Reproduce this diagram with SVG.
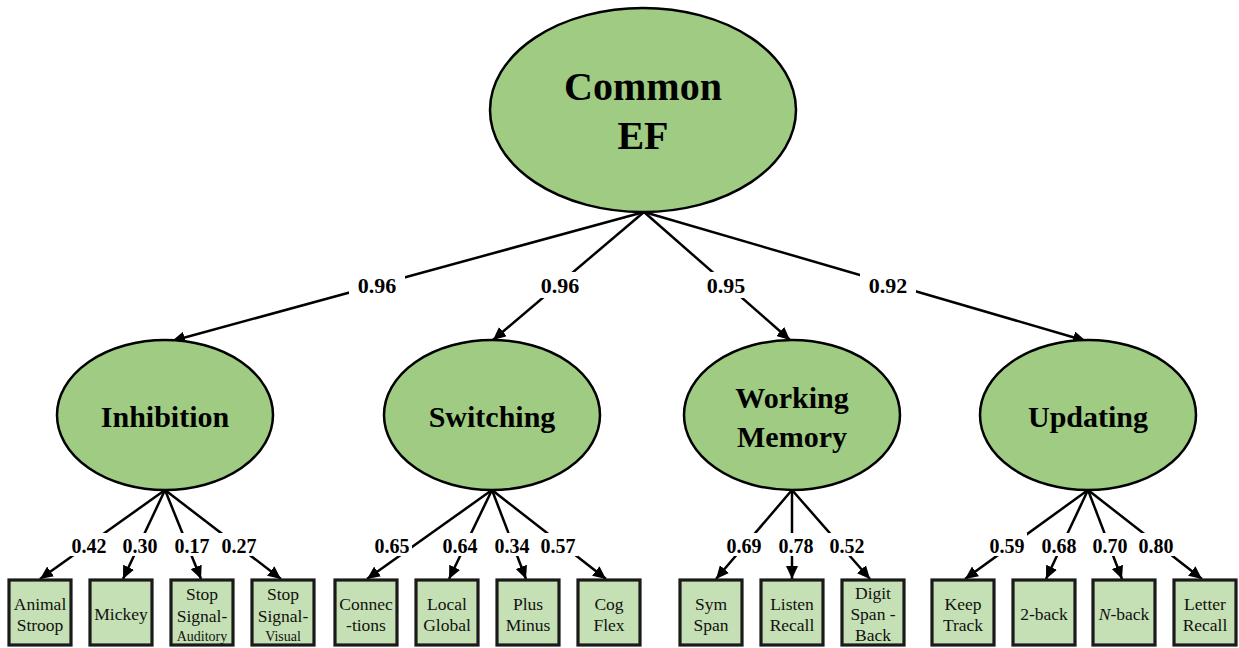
<svg xmlns="http://www.w3.org/2000/svg" width="1239" height="648" viewBox="0 0 1239 648">
<defs>
<style>
.lat{fill:#9fcb82;stroke:#000;stroke-width:2.5}
.box{fill:#c5e0b4;stroke:#1a1a1a;stroke-width:3.2}
.lt{font-family:"Liberation Serif","Times New Roman",serif;font-weight:bold;fill:#000;text-anchor:middle}
.bt{font-family:"Liberation Serif","Times New Roman",serif;font-size:17.5px;fill:#111;text-anchor:middle}
.sm{font-size:14px}
.edge{stroke:#000;stroke-width:2.5;fill:none;marker-end:url(#ah)}
.lbg{fill:#fff}
.l1{font-family:"Liberation Serif","Times New Roman",serif;font-weight:bold;font-size:22px;text-anchor:middle}
.l2{font-family:"Liberation Serif","Times New Roman",serif;font-weight:bold;font-size:20px;text-anchor:middle}
</style>
<marker id="ah" markerUnits="userSpaceOnUse" markerWidth="14" markerHeight="12" refX="13" refY="6" orient="auto">
<path d="M0,0 L13,6 L0,12 z" fill="#000"/>
</marker>
</defs>
<rect width="1239" height="648" fill="#fff"/>

<g id="connectors">
<line class="edge" x1="644" y1="212" x2="172" y2="341"/>
<line class="edge" x1="644" y1="212" x2="493" y2="340"/>
<line class="edge" x1="644" y1="212" x2="790" y2="340"/>
<line class="edge" x1="644" y1="212" x2="1086" y2="341"/>

<line class="edge" x1="165" y1="490" x2="40" y2="579"/>
<line class="edge" x1="165" y1="490" x2="123" y2="579"/>
<line class="edge" x1="165" y1="490" x2="201" y2="579"/>
<line class="edge" x1="165" y1="490" x2="281" y2="579"/>

<line class="edge" x1="492" y1="490" x2="367" y2="579"/>
<line class="edge" x1="492" y1="490" x2="449" y2="579"/>
<line class="edge" x1="492" y1="490" x2="526" y2="579"/>
<line class="edge" x1="492" y1="490" x2="606" y2="579"/>

<line class="edge" x1="792" y1="490" x2="716" y2="579"/>
<line class="edge" x1="792" y1="490" x2="792" y2="579"/>
<line class="edge" x1="792" y1="490" x2="870" y2="579"/>

<line class="edge" x1="1088" y1="490" x2="965" y2="579"/>
<line class="edge" x1="1088" y1="490" x2="1046" y2="579"/>
<line class="edge" x1="1088" y1="490" x2="1122" y2="579"/>
<line class="edge" x1="1088" y1="490" x2="1202" y2="579"/>

<g id="labels-top">
<rect class="lbg" x="349" y="272" width="56" height="26"/><text class="l1" x="377" y="293">0.96</text>
<rect class="lbg" x="532" y="272" width="56" height="26"/><text class="l1" x="560" y="293">0.96</text>
<rect class="lbg" x="698" y="272" width="56" height="26"/><text class="l1" x="726" y="293">0.95</text>
<rect class="lbg" x="860" y="272" width="56" height="26"/><text class="l1" x="888" y="293">0.92</text>
</g>
<g id="labels-bottom">
<rect class="lbg" x="69" y="533" width="40" height="23"/><text class="l2" x="89" y="553">0.42</text>
<rect class="lbg" x="120" y="533" width="40" height="23"/><text class="l2" x="140" y="553">0.30</text>
<rect class="lbg" x="172" y="533" width="40" height="23"/><text class="l2" x="192" y="553">0.17</text>
<rect class="lbg" x="219" y="533" width="40" height="23"/><text class="l2" x="239" y="553">0.27</text>

<rect class="lbg" x="372" y="533" width="40" height="23"/><text class="l2" x="392" y="553">0.65</text>
<rect class="lbg" x="440" y="533" width="40" height="23"/><text class="l2" x="460" y="553">0.64</text>
<rect class="lbg" x="492" y="533" width="40" height="23"/><text class="l2" x="512" y="553">0.34</text>
<rect class="lbg" x="538" y="533" width="40" height="23"/><text class="l2" x="558" y="553">0.57</text>

<rect class="lbg" x="724" y="533" width="40" height="23"/><text class="l2" x="744" y="553">0.69</text>
<rect class="lbg" x="776" y="533" width="40" height="23"/><text class="l2" x="796" y="553">0.78</text>
<rect class="lbg" x="827" y="533" width="40" height="23"/><text class="l2" x="847" y="553">0.52</text>

<rect class="lbg" x="987" y="533" width="40" height="23"/><text class="l2" x="1007" y="553">0.59</text>
<rect class="lbg" x="1039" y="533" width="40" height="23"/><text class="l2" x="1059" y="553">0.68</text>
<rect class="lbg" x="1090" y="533" width="40" height="23"/><text class="l2" x="1110" y="553">0.70</text>
<rect class="lbg" x="1136" y="533" width="40" height="23"/><text class="l2" x="1156" y="553">0.80</text>
</g>
</g>

<g id="common-ef">
<ellipse class="lat" cx="643" cy="110" rx="153" ry="102"/>
<text class="lt" x="643" y="100" font-size="40">Common</text>
<text class="lt" x="643" y="149" font-size="40">EF</text>
</g>
<g id="inhibition">
<ellipse class="lat" cx="165" cy="415" rx="108" ry="75"/>
<text class="lt" x="165" y="427" font-size="30">Inhibition</text>
</g>
<g id="switching">
<ellipse class="lat" cx="492" cy="415" rx="108" ry="75"/>
<text class="lt" x="492" y="427" font-size="30">Switching</text>
</g>
<g id="working-memory">
<ellipse class="lat" cx="792" cy="415" rx="108" ry="75"/>
<text class="lt" x="792" y="408" font-size="30">Working</text>
<text class="lt" x="792" y="447" font-size="30">Memory</text>
</g>
<g id="updating">
<ellipse class="lat" cx="1088" cy="415" rx="108" ry="75"/>
<text class="lt" x="1088" y="427" font-size="30">Updating</text>
</g>

<g id="animal-stroop"><rect class="box" x="9" y="580" width="62" height="65"/><text class="bt" x="40" y="610">Animal</text><text class="bt" x="40" y="631">Stroop</text></g>
<g id="mickey"><rect class="box" x="90" y="580" width="62" height="65"/><text class="bt" x="121" y="620">Mickey</text></g>
<g id="stop-auditory"><rect class="box" x="171" y="580" width="62" height="65"/><text class="bt" x="202" y="600">Stop</text><text class="bt" x="202" y="622">Signal-</text><text class="bt sm" x="202" y="641">Auditory</text></g>
<g id="stop-visual"><rect class="box" x="252" y="580" width="62" height="65"/><text class="bt" x="283" y="600">Stop</text><text class="bt" x="283" y="622">Signal-</text><text class="bt sm" x="283" y="641">Visual</text></g>

<g id="connections"><rect class="box" x="335" y="580" width="62" height="65"/><text class="bt" x="366" y="610">Connec</text><text class="bt" x="366" y="631">-tions</text></g>
<g id="local-global"><rect class="box" x="416" y="580" width="62" height="65"/><text class="bt" x="447" y="610">Local</text><text class="bt" x="447" y="631">Global</text></g>
<g id="plus-minus"><rect class="box" x="497" y="580" width="62" height="65"/><text class="bt" x="528" y="610">Plus</text><text class="bt" x="528" y="631">Minus</text></g>
<g id="cog-flex"><rect class="box" x="578" y="580" width="62" height="65"/><text class="bt" x="609" y="610">Cog</text><text class="bt" x="609" y="631">Flex</text></g>

<g id="sym-span"><rect class="box" x="680" y="580" width="62" height="65"/><text class="bt" x="711" y="610">Sym</text><text class="bt" x="711" y="631">Span</text></g>
<g id="listen-recall"><rect class="box" x="761" y="580" width="62" height="65"/><text class="bt" x="792" y="610">Listen</text><text class="bt" x="792" y="631">Recall</text></g>
<g id="digit-span"><rect class="box" x="842" y="580" width="62" height="65"/><text class="bt" x="873" y="599">Digit</text><text class="bt" x="873" y="620">Span -</text><text class="bt" x="873" y="641">Back</text></g>

<g id="keep-track"><rect class="box" x="932" y="580" width="62" height="65"/><text class="bt" x="963" y="610">Keep</text><text class="bt" x="963" y="631">Track</text></g>
<g id="two-back"><rect class="box" x="1013" y="580" width="62" height="65"/><text class="bt" x="1044" y="620">2-back</text></g>
<g id="n-back"><rect class="box" x="1093" y="580" width="62" height="65"/><text class="bt" x="1124" y="620"><tspan font-style="italic">N</tspan>-back</text></g>
<g id="letter-recall"><rect class="box" x="1174" y="580" width="62" height="65"/><text class="bt" x="1205" y="610">Letter</text><text class="bt" x="1205" y="631">Recall</text></g>
</svg>
